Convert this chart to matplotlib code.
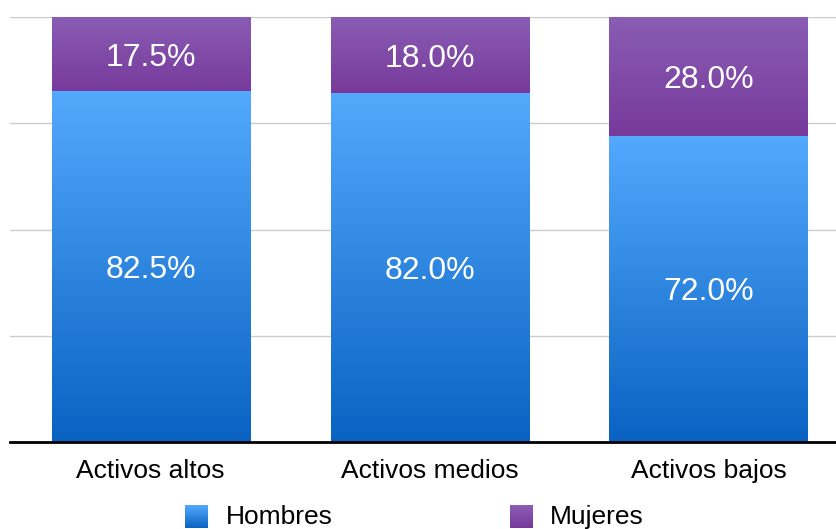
import numpy as np
import matplotlib
matplotlib.use("Agg")
import matplotlib.pyplot as plt
from matplotlib.colors import LinearSegmentedColormap

categories = ["Activos altos", "Activos medios", "Activos bajos"]
hombres = [82.5, 82.0, 72.0]
mujeres = [17.5, 18.0, 28.0]
series_names = ["Hombres", "Mujeres"]

plt.rcParams['font.family'] = ['Liberation Sans', 'DejaVu Sans']

blue_cmap = LinearSegmentedColormap.from_list("b", ["#0A63C3", "#53A9FC"])
purple_cmap = LinearSegmentedColormap.from_list("p", ["#773A9B", "#8A5DB4"])

fig = plt.figure(figsize=(8.36, 5.29), dpi=100)
ax = fig.add_axes([10/836, 1 - 442/529, 1 - 10/836, 425/529])

x = np.arange(len(categories))
width = 0.71
grad = np.linspace(0, 1, 256).reshape(-1, 1)

def gradient_bar(xc, bottom, height, cmap):
    ax.imshow(grad, cmap=cmap, origin="lower", aspect="auto",
              extent=[xc - width/2, xc + width/2, bottom, bottom + height],
              zorder=2, interpolation="bilinear")

for i in range(len(categories)):
    gradient_bar(x[i], 0, hombres[i], blue_cmap)
    gradient_bar(x[i], hombres[i], mujeres[i], purple_cmap)
    ax.text(x[i], hombres[i] / 2, f"{hombres[i]:.1f}%", ha="center", va="center_baseline",
            color="white", fontsize=23, zorder=3)
    ax.text(x[i], hombres[i] + mujeres[i] / 2, f"{mujeres[i]:.1f}%", ha="center",
            va="center_baseline", color="white", fontsize=23, zorder=3)

ax.set_xlim(-0.504, 2.457)
ax.set_ylim(0, 100)
ax.set_yticks([25, 50, 75, 100])
ax.yaxis.grid(True, color="#CCCCCC", linewidth=1)
ax.set_axisbelow(True)
ax.tick_params(axis="y", left=False, labelleft=False)
ax.set_xticks(x)
ax.set_xticklabels(categories, fontsize=19)
ax.tick_params(axis="x", length=0, pad=12)
for s in ["top", "right", "left"]:
    ax.spines[s].set_visible(False)
ax.spines["bottom"].set_linewidth(2)
ax.spines["bottom"].set_color("black")
ax.spines["bottom"].set_zorder(4)

# legend
H, W = 529, 836
items = [(185, blue_cmap, series_names[0], 226), (510, purple_cmap, series_names[1], 550)]
for sx, cmap, name, tx in items:
    lax = fig.add_axes([sx / W, 1 - 528 / H, 23 / W, 23 / H])
    lax.imshow(grad, cmap=cmap, origin="lower", aspect="auto", interpolation="bilinear")
    lax.axis("off")
    fig.text(tx / W, 1 - 517 / H, name, fontsize=19, va="center", ha="left")

fig.savefig("out.png", dpi=100)
